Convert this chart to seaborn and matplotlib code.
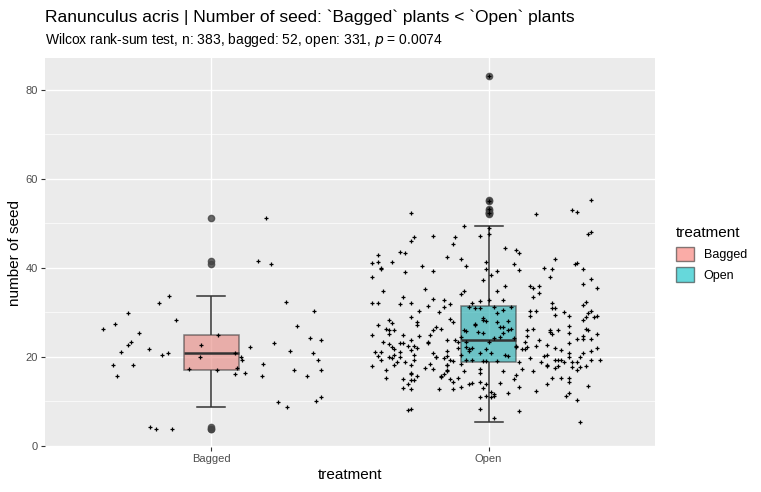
import matplotlib
matplotlib.use("Agg")
import matplotlib.pyplot as plt
import pandas as pd
import seaborn as sns
from matplotlib.patches import Patch

# seed counts, with the horizontal jitter of each point
bagged_y = [51.2, 41.5, 40.8, 33.6, 32.1, 29.8, 28.2, 27.3, 26.2, 25.3, 24.9, 22.6, 23.3, 22.6,
            21.7, 21.1, 20.4, 20.8, 19.9, 20.8, 19.9, 19.3, 22.2, 23.1, 32.3, 30.3, 26.9, 24.2,
            23.8, 21.3, 20.8, 19.3, 18.1, 18.1, 15.7, 17.2, 17.5, 16.1, 16.3, 18.4, 15.7, 17.0,
            15.7, 17.0, 9.8, 8.7, 10.0, 10.9, 4.2, 3.7, 3.7, 17.0]
bagged_dx = [0.196, 0.167, 0.214, -0.154, -0.19, -0.299, -0.129, -0.349, -0.392, -0.262, 0.023,
             -0.039, -0.291, -0.302, -0.226, -0.327, -0.179, -0.158, -0.042, 0.084, 0.106, 0.109,
             0.138, 0.225, 0.268, 0.369, 0.308, 0.355, 0.395, 0.283, 0.366, 0.384, -0.356, -0.284,
             -0.342, -0.082, 0.091, 0.084, 0.12, 0.185, 0.182, 0.297, 0.344, 0.395, 0.239, 0.272,
             0.376, 0.395, -0.223, -0.201, -0.143, 0.02]

open_pts = [
    (52.3, -0.28), (52.1, 0.17), (53.0, 0.30), (48.0, 0.37), (49.4, -0.09), (46.9, -0.27), (46.0, -0.28),
    (47.1, -0.20), (46.9, -0.12), (45.3, -0.13), (47.1, -0.03), (44.4, 0.06), (44.0, 0.10), (43.3, 0.11),
    (43.5, -0.32), (43.3, -0.30), (41.3, -0.40), (41.3, -0.35), (39.7, -0.39), (39.0, -0.30), (40.4, -0.24),
    (39.3, -0.20), (42.4, -0.15), (42.0, -0.10), (40.4, -0.08), (41.3, -0.01), (39.7, -0.01), (38.4, 0.01),
    (39.3, 0.03), (37.2, -0.02), (40.8, 0.09), (39.5, 0.11), (39.9, 0.20), (39.7, 0.23), (42.0, 0.24),
    (37.9, 0.22), (40.8, 0.31), (41.1, 0.32), (39.7, 0.34), (37.5, 0.37), (36.4, 0.34), (35.5, 0.39),
    (34.8, -0.38), (35.2, -0.23), (33.4, -0.31), (32.1, -0.40), (31.9, -0.32), (32.1, -0.28), (33.0, -0.20),
    (32.8, -0.16), (31.9, -0.14), (31.2, -0.16), (34.8, -0.09), (34.1, -0.10), (32.8, 0.00), (34.8, 0.03),
    (35.9, 0.06), (32.8, 0.05), (31.2, 0.02), (32.1, -0.06), (31.2, -0.07), (31.0, -0.05), (31.0, -0.03),
    (32.5, -0.03), (30.3, -0.25), (31.4, -0.22), (30.1, -0.18), (28.9, -0.28), (35.9, 0.15), (35.5, 0.16),
    (35.9, 0.18), (33.4, 0.16), (34.3, 0.18), (32.1, 0.23), (31.0, 0.23), (31.0, 0.24), (31.6, 0.34),
    (32.3, 0.35), (30.1, 0.27), (29.4, 0.24), (30.3, 0.15), (30.3, 0.17), (29.2, 0.15), (29.2, 0.29),
    (28.3, 0.34), (29.8, 0.36), (30.3, 0.37), (28.9, 0.35), (28.9, 0.38), (29.2, 0.39), (29.8, 0.03),
    (30.5, 0.05), (31.2, 0.08), (27.1, -0.40), (26.2, -0.37), (28.3, -0.36), (27.6, -0.35), (26.0, -0.36),
    (26.0, -0.34), (25.1, -0.36), (24.9, -0.31), (27.8, -0.26), (27.1, -0.26), (24.7, -0.25), (26.7, -0.19),
    (26.2, -0.17), (26.0, -0.20), (24.9, -0.21), (28.5, -0.14), (27.8, -0.13), (23.3, -0.38), (22.9, -0.36),
    (22.2, -0.35), (21.7, -0.34), (23.1, -0.32), (23.1, -0.31), (22.4, -0.29), (23.8, -0.28), (22.4, -0.27),
    (22.0, -0.26), (21.5, -0.28), (23.1, -0.22), (23.3, -0.22), (23.8, -0.15), (23.8, -0.12), (23.3, -0.11),
    (24.4, -0.10), (21.1, -0.39), (20.2, -0.40), (19.3, -0.39), (20.0, -0.36), (20.4, -0.34), (19.7, -0.35),
    (21.1, -0.32), (20.0, -0.32), (18.1, -0.34), (18.8, -0.33), (18.8, -0.30), (18.1, -0.28), (20.4, -0.27),
    (19.3, -0.27), (20.8, -0.20), (20.0, -0.19), (20.0, -0.19), (19.7, -0.16), (21.3, -0.15), (20.2, -0.15),
    (19.3, -0.14), (19.0, -0.13), (18.1, -0.15), (18.1, -0.15), (22.0, -0.11), (18.4, -0.10), (20.4, -0.10),
    (23.3, -0.08), (22.2, -0.08), (21.7, -0.07), (22.0, -0.06), (21.3, -0.07), (28.7, -0.02), (28.3, -0.02),
    (27.4, -0.05), (27.1, -0.05), (28.0, -0.01), (27.8, 0.03), (28.0, 0.07), (26.7, 0.04), (26.7, 0.05),
    (26.0, 0.07), (26.2, 0.08), (26.0, -0.09), (25.8, -0.08), (25.3, -0.02), (25.6, -0.04), (24.2, 0.02),
    (24.4, 0.04), (25.3, 0.05), (24.2, 0.09), (23.3, 0.00), (21.7, -0.01), (20.8, 0.01), (20.8, -0.03),
    (19.0, 0.03), (20.4, 0.06), (20.2, 0.07), (19.0, -0.02), (19.0, -0.01), (19.3, -0.08), (19.3, -0.06),
    (22.4, 0.10), (22.2, 0.10), (21.7, 0.12), (21.7, 0.13), (23.3, 0.13), (22.2, 0.14), (24.7, 0.14),
    (26.0, 0.14), (26.2, 0.16), (23.8, 0.18), (22.4, 0.17), (20.2, 0.20), (20.4, 0.21), (22.6, 0.21),
    (25.6, 0.22), (25.1, 0.23), (22.0, 0.24), (21.5, 0.26), (26.0, 0.22), (26.0, 0.25), (26.9, 0.29),
    (25.3, 0.29), (23.1, 0.29), (24.0, 0.32), (24.0, 0.34), (24.7, 0.34), (26.0, 0.36), (26.2, 0.35),
    (24.0, 0.37), (25.1, 0.39), (21.3, 0.37), (22.0, 0.39), (20.8, 0.29), (20.0, 0.29), (18.8, 0.30),
    (18.8, 0.32), (20.0, 0.33), (20.8, 0.34), (19.3, 0.40), (19.3, 0.37), (18.8, 0.11), (17.2, 0.12),
    (19.7, 0.15), (16.8, 0.16), (18.8, 0.19), (18.1, 0.21), (17.9, 0.21), (19.3, 0.24), (19.3, 0.25),
    (17.9, 0.25), (19.3, 0.26), (18.8, 0.27), (17.5, 0.24), (15.2, 0.26), (15.2, 0.29), (17.7, 0.30),
    (17.0, 0.32), (17.7, 0.33), (17.9, 0.35), (17.0, -0.37), (15.2, -0.37), (15.0, -0.31), (13.0, -0.31),
    (13.9, -0.29), (16.1, -0.28), (16.3, -0.28), (14.8, -0.28), (14.8, -0.27), (15.7, -0.26), (12.8, -0.28),
    (17.5, -0.23), (18.4, -0.21), (17.2, -0.20), (15.5, -0.17), (15.7, -0.17), (16.1, -0.16), (16.8, -0.15),
    (17.0, -0.15), (15.0, -0.14), (14.3, -0.13), (12.8, -0.13), (15.2, -0.11), (13.2, -0.10), (16.8, -0.09),
    (13.9, -0.07), (14.1, -0.06), (17.2, -0.03), (16.3, -0.03), (14.3, -0.03), (11.0, -0.03), (13.0, -0.02),
    (13.9, -0.01), (11.2, -0.01), (12.1, 0.01), (11.6, 0.02), (11.0, 0.01), (11.2, 0.02), (14.1, 0.04),
    (16.8, 0.05), (11.9, 0.07), (15.0, 0.09), (15.9, 0.10), (13.2, 0.11), (12.3, 0.17), (13.9, 0.21),
    (15.2, 0.23), (11.2, 0.28), (11.9, 0.29), (10.3, 0.32), (13.4, 0.36), (14.3, 0.29), (12.8, -0.18),
    (8.0, -0.29), (8.3, -0.28), (8.3, -0.03), (7.8, 0.11), (6.2, 0.02), (5.3, 0.33),
    (83.2, 0.0), (55.0, 0.0), (53.3, 0.0), (52.3, 0.0), (49.0, 0.0), (47.5, 0.0),
    (55.3, 0.37), (52.6, 0.32), (47.7, 0.36), (43.0, -0.40), (40.0, -0.39),
    (41.0, -0.42), (38.0, -0.42), (32.0, -0.42), (25.0, -0.42), (21.0, -0.41), (18.0, -0.42),
]
open_y = [p[0] for p in open_pts]
open_dx = [p[1] for p in open_pts]

groups = ["Bagged", "Open"]
colors = {"Bagged": "#F8766D", "Open": "#00BFC4"}

df = pd.DataFrame({
    "treatment": ["Bagged"] * len(bagged_y) + ["Open"] * len(open_y),
    "seed": bagged_y + open_y,
    "dx": bagged_dx + open_dx,
})
df["xpos"] = df["treatment"].map({"Bagged": 0, "Open": 1}) + df["dx"]

plt.rcParams["font.family"] = ["Liberation Sans", "DejaVu Sans"]
fig = plt.figure(figsize=(7.61, 4.92), dpi=100)
ax = fig.add_axes([45 / 761, 1 - 447 / 492, 610 / 761, 389 / 492])
ax.set_facecolor("#EBEBEB")

sns.boxplot(data=df, x="treatment", y="seed", hue="treatment", order=groups, palette=colors,
            width=0.2, linewidth=1.1, linecolor="#333333", legend=False, ax=ax,
            boxprops=dict(alpha=0.6),
            medianprops=dict(linewidth=1.8),
            flierprops=dict(marker="o", markersize=4.5, markerfacecolor="#444444",
                            markeredgecolor="#444444", alpha=0.8))
sns.scatterplot(data=df, x="xpos", y="seed", marker="+", color="black", s=10, linewidth=0.9,
                ax=ax, zorder=5)

ax.set_xlim(-0.6, 1.6)
ax.set_ylim(-0.3, 87.2)
ax.set_yticks([0, 20, 40, 60, 80])
ax.set_yticks([10, 30, 50, 70], minor=True)
ax.set_xticks([0, 1])
ax.set_xticklabels(groups)
ax.grid(which="major", color="white", linewidth=1.0)
ax.grid(which="minor", axis="y", color="white", linewidth=0.5)
ax.set_axisbelow(True)
for s in ax.spines.values():
    s.set_visible(False)
ax.tick_params(which="both", length=3, color="#333333", labelcolor="#4D4D4D", labelsize=8, pad=2)
ax.tick_params(which="minor", length=0)
ax.set_xlabel("treatment", fontsize=11, labelpad=3)
ax.set_ylabel("number of seed", fontsize=11, labelpad=3)

fig.text(45 / 761, 1 - 17 / 492, "Ranunculus acris | Number of seed: `Bagged` plants < `Open` plants",
         fontsize=12.5, va="center")
fig.text(45 / 761, 1 - 40 / 492, "Wilcox rank-sum test, n: 383, bagged: 52, open: 331, $p$ = 0.0074",
         fontsize=10, va="center")

handles = [Patch(facecolor=colors[g], alpha=0.6, edgecolor="#333333", label=g) for g in groups]
leg = fig.legend(handles=handles, title="treatment", loc="upper left",
                 bbox_to_anchor=(665 / 761, 1 - 215 / 492), frameon=False, fontsize=9,
                 title_fontsize=11, handlelength=1.4, handleheight=1.4)
leg._legend_box.align = "left"

fig.savefig("out.png", dpi=100)
